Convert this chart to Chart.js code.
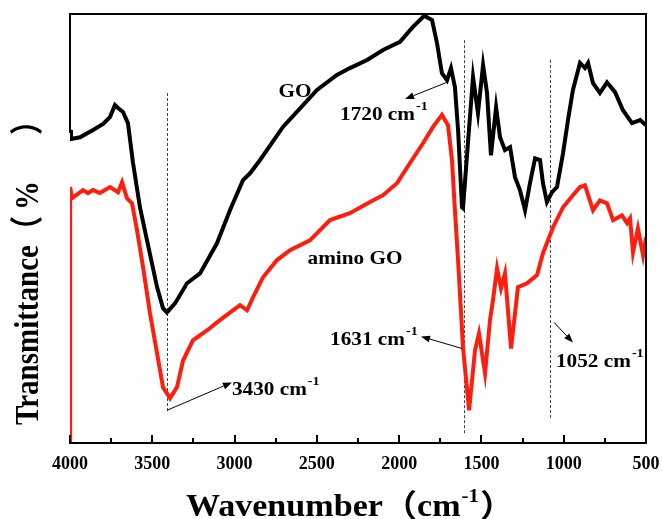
<!DOCTYPE html>
<html><head><meta charset="utf-8">
<script src="https://cdn.jsdelivr.net/npm/chart.js@4.4.1/dist/chart.umd.min.js"></script>
<style>html,body{margin:0;padding:0;background:#fff;}#wrap{width:662px;height:519px;position:relative;}
#frame{position:absolute;box-sizing:border-box;border-right:2px solid #000;border-bottom:2px solid #000;pointer-events:none;}
.tk{position:absolute;width:2px;background:#000;pointer-events:none;}</style>
</head><body><div id="wrap"><canvas id="c"></canvas></div>
<script>
// ---- data ----
const seriesNames = ['GO', 'amino GO'];
const goWavenumber = [4000,3994,3939,3860,3799,3757,3727,3708,3678,3648,3617,3575,3532,3471,3435,3411,3362,3289,3210,3107,3028,2949,2906,2845,2706,2584,2499,2378,2299,2195,2098,1995,1916,1855,1843,1800,1770,1740,1709,1685,1661,1642,1618,1612,1582,1551,1521,1490,1466,1442,1411,1387,1357,1326,1296,1266,1235,1205,1174,1144,1126,1102,1071,1041,1004,974,944,901,871,852,822,780,737,688,640,585,536,500];
const goTransmittance = [73.0,70.9,71.3,73.0,74.4,76.0,78.8,78.1,77.2,74.6,65.3,55.0,47.3,36.4,31.5,30.5,32.6,37.3,39.6,46.6,54.3,61.3,62.9,66.0,73.7,78.8,82.3,85.8,87.4,89.3,91.6,93.5,97.0,99.3,99.5,98.6,93.2,86.2,84.6,87.4,83.0,73.0,55.0,54.8,69.9,85.3,76.9,88.1,81.6,67.1,78.3,71.3,68.3,69.0,62.0,59.0,54.3,60.6,66.4,66.0,60.6,56.2,58.5,59.7,67.6,75.3,82.3,88.6,87.4,88.6,83.9,81.6,84.1,81.8,77.6,74.6,75.3,74.1];
const aminoWavenumber = [4000,3999,3988,3921,3891,3860,3818,3757,3708,3684,3654,3623,3593,3556,3514,3471,3435,3392,3350,3313,3253,3168,3089,3010,2967,2924,2888,2827,2742,2663,2542,2420,2299,2177,2098,2013,1934,1855,1794,1740,1703,1679,1661,1642,1612,1575,1539,1515,1478,1448,1430,1405,1381,1357,1320,1278,1223,1162,1126,1065,1004,944,901,871,822,780,737,700,646,615,597,579,549,518,500];
const aminoTransmittance = [0,59.7,57.1,59.0,58.3,59.0,58.3,59.7,58.5,60.8,57.1,55.9,49.7,41.0,30.3,21.0,13.1,10.5,13.1,19.3,24.0,26.3,28.7,31.0,32.2,31.0,34.0,38.7,42.7,45.0,47.3,52.0,53.6,56.2,57.8,60.6,65.3,69.9,73.7,76.5,74.1,66.0,54.3,42.7,22.4,7.7,21.7,25.6,16.3,28.7,33.3,40.8,36.1,39.6,22.1,36.4,37.3,39.2,44.3,50.3,55.0,57.8,59.7,60.1,54.3,56.6,55.9,52.0,53.1,51.3,52.4,44.5,50.1,43.8,48.0];
const xTickValues = [500, 1000, 1500, 2000, 2500, 3000, 3500, 4000];
const xTickLabels = ['500', '1000', '1500', '2000', '2500', '3000', '3500', '4000'];
const peakWavenumbers = [3413, 1604, 1082];
const peakLabels = ['1720 cm', '3430 cm', '1631 cm', '1052 cm'];

// ---- annotation layout (data coordinates) ----
const markerSpans = [[7.2, 81.6], [2.3, 93.9], [5.6, 89.3]];
const arrows = [
  { from: [1709, 84.1], to: [1964, 80.2] },
  { from: [3411, 7.7], to: [3016, 14.2] },
  { from: [1618, 22.1], to: [1867, 24.9] },
  { from: [1059, 28.2], to: [944, 23.5] }
];
const labelPos = [[2359, 75.3], [3016, 11.2], [2420, 22.8], [1047, 17.7]];
const seriesLabelPos = [[2633, 80.7], [2268, 41.7]];

const SERIF = "'Liberation Serif','Times New Roman',serif";
const SERIF_CJK = "'Liberation Serif','Noto Sans CJK SC',serif";

function stretchedText(ctx, str, x, y, size, sx, align, fam) {
  ctx.save();
  ctx.font = 'bold ' + size + 'px ' + (fam || SERIF);
  ctx.textBaseline = 'alphabetic';
  const w = ctx.measureText(str).width * sx;
  let dx = 0;
  if (align === 'center') dx = -w / 2;
  ctx.translate(x + dx, y);
  ctx.scale(sx, 1);
  ctx.textAlign = 'left';
  ctx.fillStyle = '#000';
  ctx.fillText(str, 0, 0);
  ctx.restore();
  return w;
}

function arrow(ctx, x1, y1, x2, y2) {
  ctx.save();
  ctx.strokeStyle = '#000'; ctx.fillStyle = '#000'; ctx.lineWidth = 1;
  const a = Math.atan2(y2 - y1, x2 - x1);
  const L = 9, W = 3.5;
  const bx = x2 - L * Math.cos(a), by = y2 - L * Math.sin(a);
  ctx.beginPath(); ctx.moveTo(x1, y1); ctx.lineTo(bx, by); ctx.stroke();
  ctx.beginPath();
  ctx.moveTo(x2, y2);
  ctx.lineTo(bx + W * Math.sin(a), by - W * Math.cos(a));
  ctx.lineTo(bx - W * Math.sin(a), by + W * Math.cos(a));
  ctx.closePath(); ctx.fill();
  ctx.restore();
}

// frame edges + inward ticks as an overlay placed from the chart's own scales
function placeOverlay(chart) {
  const wrap = document.getElementById('wrap');
  const ca = chart.chartArea, x = chart.scales.x;
  let f = document.getElementById('frame');
  if (!f) { f = document.createElement('div'); f.id = 'frame'; wrap.appendChild(f); }
  const L = Math.round(ca.left), R = Math.round(ca.right), T = Math.round(ca.top), B = Math.round(ca.bottom);
  f.style.left = (L - 1) + 'px'; f.style.top = (T - 1) + 'px';
  f.style.width = (R - L + 2) + 'px'; f.style.height = (B - T + 2) + 'px';
  wrap.querySelectorAll('.tk').forEach(n => n.remove());
  for (let v = 500; v <= 4000; v += 250) {
    const px = Math.round(x.getPixelForValue(v));
    const len = (v % 500 === 0) ? 8 : 5;
    const t = document.createElement('div');
    t.className = 'tk';
    t.style.left = (px - 1) + 'px'; t.style.top = (B - len) + 'px'; t.style.height = len + 'px';
    wrap.appendChild(t);
  }
}

const decor = {
  id: 'decor',
  beforeDatasetsDraw(chart) {
    const { ctx, scales: { x, y } } = chart;
    ctx.save();
    ctx.strokeStyle = '#444'; ctx.lineWidth = 1; ctx.setLineDash([3, 2]);
    peakWavenumbers.forEach((w, i) => {
      const px = Math.round(x.getPixelForValue(w)) + 0.5;
      ctx.beginPath();
      ctx.moveTo(px, y.getPixelForValue(markerSpans[i][1]));
      ctx.lineTo(px, y.getPixelForValue(markerSpans[i][0]));
      ctx.stroke();
    });
    ctx.setLineDash([]);
    ctx.restore();
  },
  afterDatasetsDraw(chart) {
    const { ctx, scales: { x, y } } = chart;
    arrows.forEach(ar => arrow(ctx,
      x.getPixelForValue(ar.from[0]), y.getPixelForValue(ar.from[1]),
      x.getPixelForValue(ar.to[0]), y.getPixelForValue(ar.to[1])));
    const SX = 1.18;
    peakLabels.forEach((t, i) => {
      const px = x.getPixelForValue(labelPos[i][0]);
      const py = y.getPixelForValue(labelPos[i][1]);
      const w = stretchedText(ctx, t, px, py, 18, SX, 'left');
      stretchedText(ctx, '-1', px + w + 1, py - 10, 12, SX, 'left');
    });
    seriesNames.forEach((t, i) => {
      stretchedText(ctx, t, x.getPixelForValue(seriesLabelPos[i][0]), y.getPixelForValue(seriesLabelPos[i][1]), 18, SX, 'center');
    });
    {
      const sx = 1.1, size = 31, base = 516;
      ctx.save();
      ctx.font = 'bold ' + size + 'px ' + SERIF_CJK;
      const w1 = ctx.measureText('Wavenumber（cm').width * sx;
      ctx.font = 'bold 19px ' + SERIF;
      const w2 = ctx.measureText('-1').width * sx;
      ctx.font = 'bold ' + size + 'px ' + SERIF_CJK;
      const w3 = ctx.measureText('）').width * sx;
      ctx.restore();
      const total = w1 + w2 + 2 + w3;
      const cx = 350 - total / 2;
      stretchedText(ctx, 'Wavenumber（cm', cx, base, size, sx, 'left', SERIF_CJK);
      stretchedText(ctx, '-1', cx + w1 + 1, base - 14, 19, sx, 'left');
      stretchedText(ctx, '）', cx + w1 + w2 + 2, base, size, sx, 'left', SERIF_CJK);
    }
    {
      ctx.save();
      ctx.translate(38, 425);
      ctx.rotate(-Math.PI / 2);
      ctx.scale(1, 1.15);
      ctx.fillStyle = '#000';
      ctx.textBaseline = 'alphabetic';
      ctx.font = 'bold 29px ' + SERIF_CJK;
      const w1 = ctx.measureText('Transmittance（').width;
      ctx.fillText('Transmittance（', 0, 0);
      ctx.fillText('%', w1 + 6, 0);
      ctx.fillText('）', 290, 0);
      ctx.restore();
    }
  },
  afterDraw(chart) {
    const { ctx, chartArea: ca, scales: { x } } = chart;
    const L = Math.round(ca.left), R = Math.round(ca.right), T = Math.round(ca.top), B = Math.round(ca.bottom);
    ctx.save();
    ctx.fillStyle = '#000';
    ctx.fillRect(L - 1, T - 1, R - L + 2, 2);
    ctx.fillRect(L - 1, B - 1, R - L + 2, 2);
    ctx.fillRect(R - 1, T - 1, 2, B - T + 2);
    ctx.fillRect(L - 1, T - 1, 2, 120);
    for (let v = 500; v <= 4000; v += 250) {
      const px = Math.round(x.getPixelForValue(v));
      const len = (v % 500 === 0) ? 8 : 5;
      ctx.fillRect(px - 1, B - len, 2, len);
    }
    ctx.restore();
  },
  afterRender(chart) { placeOverlay(chart); }
};

const mk = (xs, ys) => xs.map((v, i) => ({ x: v, y: ys[i] }));

new Chart(document.getElementById('c'), {
  type: 'line',
  data: {
    datasets: [
      { label: seriesNames[0], data: mk(goWavenumber, goTransmittance), borderColor: '#000000', borderWidth: 4, pointRadius: 0 },
      { label: seriesNames[1], data: mk(aminoWavenumber, aminoTransmittance), borderColor: '#ff1e0e', borderWidth: 4, pointRadius: 0 }
    ]
  },
  options: {
    responsive: true, maintainAspectRatio: false, animation: false,
    layout: { padding: { left: 70, right: 16, top: 14, bottom: 34 } },
    plugins: { legend: { display: false }, tooltip: { enabled: false } },
    scales: {
      x: {
        type: 'linear', reverse: true, min: 500, max: 4000,
        afterBuildTicks: s => { s.ticks = xTickValues.map(v => ({ value: v })); },
        ticks: { color: '#000', padding: 10, maxRotation: 0, autoSkip: false,
                 callback: (v, i) => xTickLabels[i],
                 font: { family: SERIF, size: 18, weight: 'bold' } },
        grid: { display: false, drawTicks: false }, border: { display: true, color: '#000', width: 2 }
      },
      y: { display: false, min: 0, max: 100 }
    }
  },
  plugins: [decor]
});
</script>
</body></html>
